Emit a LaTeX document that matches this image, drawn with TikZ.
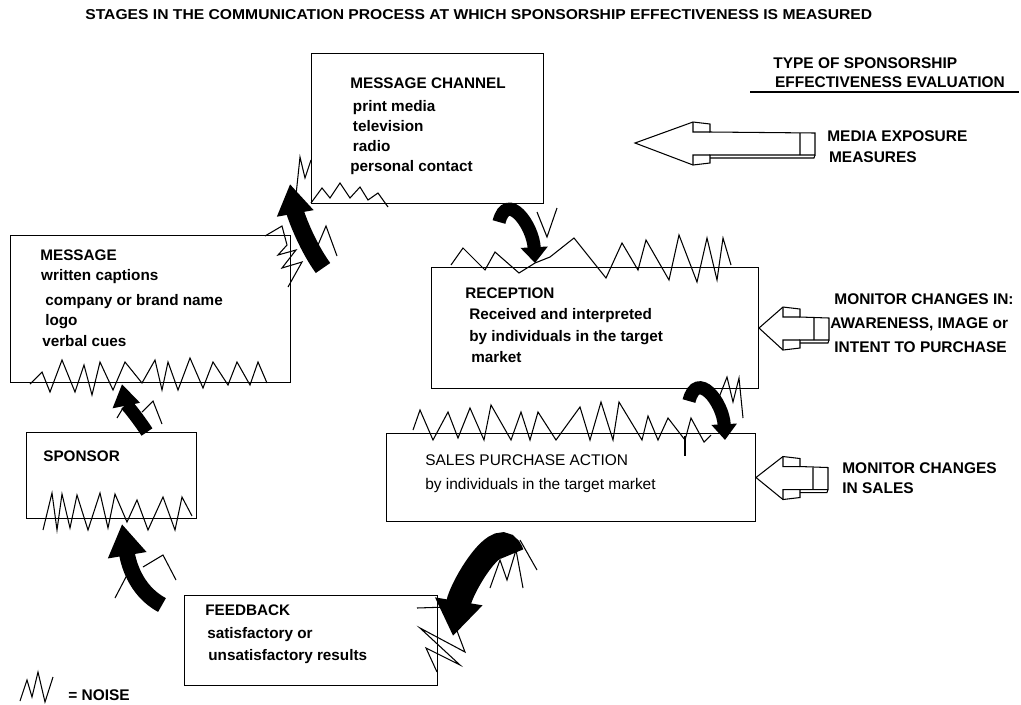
\documentclass[tikz,border=0pt]{standalone}
\usepackage{fontspec}
\setmainfont{Liberation Sans}
\usepackage{graphicx}
\usetikzlibrary{arrows.meta, calc}

\begin{document}
\begin{tikzpicture}[
  x=0.02cm, y=-0.02cm,
  stage/.style={draw, line width=0.6pt, anchor=north west, inner sep=0pt},
  stagetext/.style={anchor=north west, inner sep=0pt, align=left, font=\fontsize{8.7}{11.6}\selectfont\bfseries},
  evaltext/.style={anchor=north west, inner sep=0pt, align=left, font=\fontsize{8.8}{11.9}\selectfont\bfseries},
  noise/.style={line width=0.6pt, line join=miter},
  flow/.style n args={3}{line width=#1, -{Triangle[length=#2, width=#3]}},
  pics/evalarrow/.style 2 args={code={
    \draw[line width=0.6pt, line join=miter] (0,0) -- (#1,-21) -- (#1+17,-19) -- (#1+17,-11) -- (#2,-10) -- (#2,12) -- (#1+17,12) -- (#1+17,20) -- (#1,22) -- cycle;
    \draw[line width=0.6pt] (#1,-21) -- (#1,-11) -- (#1+17,-11) (#1,22) -- (#1,12) -- (#1+17,12)
      (#2-15,-10) -- (#2-15,12) (#1+17,15) -- (#2-1,15) -- (#2,12);
  }},
]
\useasboundingbox (0,0) rectangle (1021,704);

% Title and column heading
\node[anchor=west, inner sep=0pt] (title) at (85,15) {\resizebox{15.74cm}{0.2cm}{\bfseries STAGES IN THE COMMUNICATION PROCESS AT WHICH SPONSORSHIP EFFECTIVENESS IS MEASURED}};
\node[evaltext, font=\fontsize{8.8}{10.8}\selectfont\bfseries] (typetxt) at (773,57.5) {TYPE OF SPONSORSHIP\\\hspace*{1pt}EFFECTIVENESS EVALUATION};
\draw[line width=0.7pt] (750,92) -- (1019,92);

% Stages
\node[stage, minimum width=4.64cm, minimum height=3.00cm] (chan) at (311,53) {};
\node[stage, minimum width=5.60cm, minimum height=2.94cm] (msg) at (10,235) {};
\node[stage, minimum width=6.54cm, minimum height=2.42cm] (recept) at (431,267) {};
\node[stage, minimum width=7.38cm, minimum height=1.76cm] (sales) at (386,433) {};
\node[stage, minimum width=3.40cm, minimum height=1.72cm] (spon) at (26,432) {};
\node[stage, minimum width=5.06cm, minimum height=1.80cm] (feed) at (184,595) {};

\node[stagetext, font=\fontsize{8.7}{11.34}\selectfont\bfseries] (chantxt) at (350,77.5) {MESSAGE CHANNEL\\[2pt]
  \hspace*{1.5pt}print media\\\hspace*{1.5pt}television\\\hspace*{1.5pt}radio\\personal contact};
\node[stagetext] (msgtxt) at (40,249.5) {MESSAGE\\\hspace*{0.5pt}written captions\\[2.3pt]
  \hspace*{2.8pt}company or brand name\\\hspace*{2.8pt}logo\\\hspace*{1.1pt}verbal cues};
\node[stagetext, font=\fontsize{8.7}{12.2}\selectfont\bfseries] (recepttxt) at (465,287.5) {RECEPTION\\
  \hspace*{2.3pt}Received and interpreted\\\hspace*{2.3pt}by individuals in the target\\\hspace*{3.4pt}market};
\node[stagetext, font=\fontsize{8.8}{13.3}\selectfont] (salestxt) at (425,454.5) {SALES PURCHASE ACTION\\by individuals in the target market};
\node[stagetext] (spontxt) at (43,450.5) {SPONSOR};
\node[stagetext, font=\fontsize{8.7}{12.8}\selectfont\bfseries] (feedtxt) at (205,604.5) {FEEDBACK\\
  \hspace*{1.1pt}satisfactory or\\\hspace*{1.7pt}unsatisfactory results};

% Evaluation arrows and labels
\pic at (635,143) {evalarrow={58}{180}};
\pic at (recept.east) {evalarrow={24}{70}};
\pic at (sales.east) {evalarrow={27}{72}};
\node[evaltext] (medialbl) at (827,130.5) {MEDIA EXPOSURE\\\hspace*{1pt}MEASURES};
\node[evaltext, font=\fontsize{8.8}{13.6}\selectfont\bfseries] (receptlbl) at (830,293.5) {\hspace*{2.3pt}MONITOR CHANGES IN:\\AWARENESS, IMAGE {\normalfont\bfseries or}\\\hspace*{2.3pt}INTENT TO PURCHASE};
\node[evaltext, font=\fontsize{8.8}{11.3}\selectfont\bfseries] (saleslbl) at (842,462.5) {MONITOR CHANGES\\IN SALES};

% Noise
\draw[noise] plot coordinates {(30,384) (42,372) (50,392) (62,360) (75,392) (84,365) (92,395) (100,362) (113,390) (125,362) (142,383) (155,360) (162,390) (168,362) (178,390) (190,358) (203,388) (213,362) (228,385) (237,362) (250,385) (258,362) (267,383)};
\draw[noise] plot coordinates {(43,530) (52,493) (57,530) (62,494) (70,528) (77,495) (88,530) (100,493) (108,528) (115,494) (127,522) (137,500) (148,530) (163,497) (175,530) (182,497) (192,516)};
\draw[noise] plot coordinates {(451,265) (463,248) (485,270) (495,252) (519,273) (535,263) (550,257) (574,238) (606,278) (622,243) (638,270) (646,240) (669,280) (679,235) (697,282) (707,238) (717,280) (723,238) (731,265)};
\draw[noise] plot coordinates {(413,430) (420,410) (433,440) (448,412) (458,438) (470,408) (484,440) (491,405) (511,440) (521,412) (530,440) (538,412) (556,440) (580,407) (590,440) (601,402) (613,440) (619,402) (642,440) (648,416) (658,440) (668,418) (685,440) (691,418) (704,442) (711,435)};
\draw[noise] (685,436) -- (685,456);
\draw[noise] plot coordinates {(311,203) (322,188) (330,198) (340,183) (350,198) (360,187) (368,200) (378,193) (388,207)};
\draw[noise] plot coordinates {(296,195) (300,157) (305,178) (311,160)};
\draw[noise] plot coordinates {(265,236) (282,226) (287,245) (278,255) (296,250) (282,268) (302,262) (288,287)};
\draw[noise] plot coordinates {(318,245) (326,226) (337,256)};
\draw[noise] plot coordinates {(537,212) (547,237) (557,208)};
\draw[noise] plot coordinates {(718,400) (727,377) (733,402) (739,378) (743,418)};
\draw[noise] plot coordinates {(490,588) (500,560) (507,580) (516,550) (523,588)};
\draw[noise] (520,540) -- (537,570);
\draw[noise] plot coordinates {(417,608) (448,607) (465,652) (420,628) (460,665) (426,648) (437,672)};
\draw[noise] plot coordinates {(143,567) (163,555) (176,580)};
\draw[noise] plot coordinates {(115,598) (127,575)};
\draw[noise] plot coordinates {(117,418) (123,408)};
\draw[noise] plot coordinates {(142,412) (153,401) (162,424)};

% Communication flow
\draw[flow={10pt}{17pt}{20pt}] ($(msg.north east)+(32,33)$) .. controls +(-18,-25) and +(5,28) .. ($(chan.south west)+(-21,-20)$);
\draw[flow={7.5pt}{9pt}{15pt}] ($(chan.south east)+(-45,18)$) .. controls +(8,-32) and +(-2,-38) .. ($(recept.north west)+(104,-4)$);
\draw[flow={7.5pt}{9pt}{14pt}] ($(recept.south east)+(-70,12)$) .. controls +(8,-32) and +(-2,-38) .. ($(sales.north west)+(339,7)$);
\draw[flow={14pt}{20pt}{26pt}] ($(sales.south west)+(126,32)$) .. controls +(-12,-34) and +(8,-48) .. ($(feed.north east)+(15,41)$);
\draw[flow={9pt}{18pt}{21pt}] ($(feed.north west)+(-22,10)$) .. controls +(-28,-15) and +(6,36) .. ($(spon.south west)+(96,5)$);
\draw[flow={7.5pt}{12.5pt}{15pt}] ($(spon.north west)+(121,0)$) .. controls +(-12,-18) and +(4,20) .. ($(msg.south west)+(112,1)$);

% Legend
\draw[noise] plot coordinates {(20,701) (27,680) (32,697) (38,672) (45,702) (53,677)};
\node[evaltext] (legend) at (68,689.5) {= NOISE};

\end{tikzpicture}
\end{document}
